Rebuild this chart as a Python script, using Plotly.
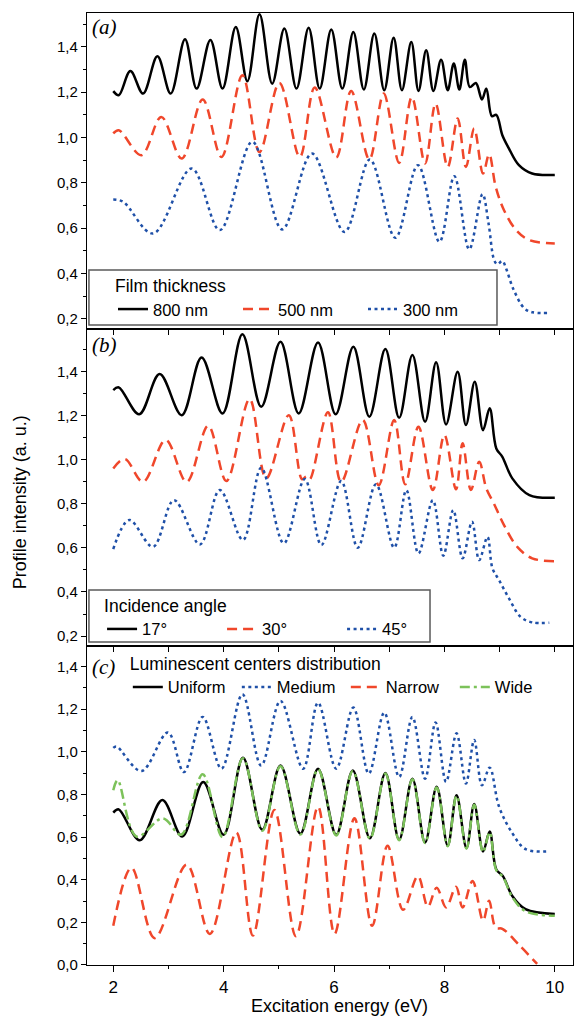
import plotly.graph_objects as go
from plotly.subplots import make_subplots

# ---------------- data ----------------
# Panel (a): film thickness
a800_x = [2.00, 2.10, 2.31, 2.54, 2.80, 3.04, 3.30, 3.51, 3.76, 3.98, 4.22, 4.43, 4.65, 4.88, 5.10, 5.32,
          5.54, 5.74, 5.95, 6.15, 6.35, 6.54, 6.73, 6.91, 7.08, 7.23, 7.40, 7.53, 7.67, 7.80, 7.94, 8.06,
          8.17, 8.27, 8.37, 8.46, 8.57, 8.68, 8.76, 8.86, 8.94, 9.05, 9.17, 9.35, 9.59, 10.0]
a800_y = [1.205, 1.187, 1.294, 1.194, 1.359, 1.194, 1.434, 1.216, 1.431, 1.216, 1.488, 1.249, 1.544, 1.238,
          1.481, 1.216, 1.485, 1.216, 1.477, 1.216, 1.466, 1.212, 1.459, 1.209, 1.441, 1.209, 1.422, 1.206,
          1.385, 1.206, 1.344, 1.209, 1.327, 1.212, 1.344, 1.223, 1.241, 1.168, 1.216, 1.094, 1.100, 1.010,
          0.951, 0.878, 0.841, 0.835]
a500_x = [2.00, 2.10, 2.51, 2.87, 3.24, 3.62, 3.96, 4.34, 4.65, 5.01, 5.38, 5.65, 6.04, 6.31, 6.64, 6.90,
          7.18, 7.41, 7.65, 7.84, 8.06, 8.24, 8.39, 8.54, 8.70, 8.81, 8.93, 9.08, 9.30, 9.54, 10.0]
a500_y = [1.018, 1.032, 0.922, 1.091, 0.907, 1.168, 0.914, 1.275, 0.936, 1.241, 0.914, 1.221, 0.912, 1.206,
          0.903, 1.194, 0.888, 1.179, 0.885, 1.150, 0.870, 1.084, 0.870, 1.040, 0.841, 0.926, 0.782, 0.679,
          0.591, 0.547, 0.532]
a300_x = [2.00, 2.18, 2.72, 3.42, 3.93, 4.52, 5.06, 5.60, 6.19, 6.65, 7.11, 7.52, 7.91, 8.18, 8.45, 8.69,
          8.80, 8.90, 8.96, 9.05, 9.12, 9.25, 9.45, 9.60, 9.90]
a300_y = [0.726, 0.716, 0.576, 0.863, 0.591, 0.981, 0.594, 0.929, 0.583, 0.903, 0.557, 0.878, 0.539, 0.829,
          0.506, 0.750, 0.620, 0.460, 0.440, 0.455, 0.420, 0.330, 0.245, 0.228, 0.225]

# Panel (b): incidence angle
b17_x = [2.00, 2.10, 2.47, 2.84, 3.24, 3.60, 3.98, 4.34, 4.68, 5.03, 5.36, 5.71, 6.03, 6.35, 6.64, 6.93,
         7.18, 7.42, 7.65, 7.85, 8.03, 8.24, 8.39, 8.55, 8.70, 8.82, 8.94, 9.05, 9.23, 9.54, 10.0]
b17_y = [1.317, 1.329, 1.207, 1.390, 1.203, 1.465, 1.211, 1.570, 1.241, 1.536, 1.211, 1.533, 1.207, 1.514,
         1.196, 1.503, 1.191, 1.476, 1.173, 1.443, 1.161, 1.400, 1.158, 1.355, 1.135, 1.234, 1.052, 1.014,
         0.916, 0.840, 0.828]
b30_x = [2.00, 2.21, 2.54, 2.95, 3.33, 3.72, 4.05, 4.47, 4.77, 5.18, 5.42, 5.50, 5.56, 5.89, 6.13, 6.52,
         6.81, 7.09, 7.29, 7.53, 7.79, 8.00, 8.21, 8.33, 8.48, 8.63, 8.76, 8.90, 9.08, 9.32, 9.59, 10.0]
b30_y = [0.961, 1.004, 0.900, 1.090, 0.900, 1.155, 0.904, 1.276, 0.916, 1.203, 0.912, 0.925, 0.912, 1.216,
         0.900, 1.181, 0.885, 1.181, 0.889, 1.150, 0.863, 1.113, 0.866, 1.075, 0.863, 0.991, 0.870, 0.800,
         0.704, 0.605, 0.553, 0.540]
b45_x = [2.00, 2.29, 2.72, 3.10, 3.57, 3.93, 4.35, 4.68, 5.09, 5.47, 5.77, 6.13, 6.43, 6.76, 7.09, 7.31,
         7.53, 7.79, 7.98, 8.16, 8.33, 8.50, 8.63, 8.78, 8.87, 8.99, 9.17, 9.38, 9.59, 9.90]
b45_y = [0.595, 0.727, 0.605, 0.817, 0.616, 0.863, 0.636, 0.964, 0.621, 0.913, 0.613, 0.904, 0.601, 0.889,
         0.601, 0.863, 0.575, 0.817, 0.565, 0.772, 0.553, 0.719, 0.545, 0.650, 0.508, 0.454, 0.371, 0.287,
         0.262, 0.260]

# Panel (c): luminescent centers distribution
cU_x = [2.00, 2.10, 2.48, 2.89, 3.25, 3.63, 4.00, 4.35, 4.70, 5.03, 5.39, 5.71, 6.04, 6.34, 6.65, 6.93,
        7.18, 7.42, 7.65, 7.86, 8.06, 8.22, 8.40, 8.54, 8.70, 8.82, 8.94, 9.06, 9.23, 9.47, 10.0]
cU_y = [0.715, 0.730, 0.585, 0.774, 0.603, 0.859, 0.611, 0.972, 0.634, 0.936, 0.616, 0.921, 0.611, 0.913,
        0.595, 0.901, 0.588, 0.874, 0.575, 0.836, 0.560, 0.797, 0.549, 0.755, 0.533, 0.626, 0.448, 0.417,
        0.324, 0.262, 0.239]
cM_x = [2.00, 2.06, 2.51, 2.99, 3.28, 3.62, 3.96, 4.34, 4.68, 5.03, 5.44, 5.71, 6.04, 6.35, 6.63, 6.91,
        7.18, 7.42, 7.65, 7.84, 8.03, 8.22, 8.39, 8.54, 8.68, 8.82, 8.99, 9.23, 9.47, 9.90]
cM_y = [1.019, 1.025, 0.910, 1.091, 0.905, 1.164, 0.921, 1.270, 0.936, 1.239, 0.921, 1.231, 0.921, 1.208,
        0.898, 1.184, 0.882, 1.164, 0.874, 1.138, 0.859, 1.087, 0.851, 1.056, 0.843, 0.926, 0.743, 0.619,
        0.544, 0.533]
cN_x = [2.00, 2.33, 2.75, 3.33, 3.75, 4.23, 4.53, 4.92, 5.31, 5.71, 6.01, 6.37, 6.69, 6.97, 7.25, 7.52,
        7.70, 7.86, 8.03, 8.21, 8.33, 8.51, 8.70, 8.81, 8.93, 9.05, 9.35, 9.68]
cN_y = [0.184, 0.456, 0.126, 0.471, 0.146, 0.622, 0.138, 0.727, 0.135, 0.743, 0.146, 0.688, 0.184, 0.560,
        0.259, 0.417, 0.274, 0.363, 0.270, 0.367, 0.270, 0.394, 0.208, 0.301, 0.175, 0.170, 0.095, 0.005]
cW_x = [2.00, 2.08, 2.42, 2.90, 3.23, 3.62, 3.98, 4.35, 4.70, 5.03, 5.39, 5.71, 6.04, 6.34, 6.65, 6.93,
        7.18, 7.42, 7.65, 7.86, 8.06, 8.22, 8.40, 8.54, 8.70, 8.82, 8.94, 9.06, 9.23, 9.47, 10.0]
cW_y = [0.820, 0.867, 0.603, 0.688, 0.611, 0.895, 0.600, 0.970, 0.630, 0.932, 0.612, 0.918, 0.608, 0.910,
        0.592, 0.898, 0.585, 0.871, 0.572, 0.833, 0.557, 0.794, 0.546, 0.752, 0.530, 0.623, 0.445, 0.414,
        0.318, 0.252, 0.231]

legend_titles = ["Film thickness", "Incidence angle", "Luminescent centers distribution"]
names_a = ["800 nm", "500 nm", "300 nm"]
names_b = ["17°", "30°", "45°"]
names_c = ["Uniform", "Medium", "Narrow", "Wide"]
panel_labels = ["(a)", "(b)", "(c)"]

# ---------------- styling ----------------
BLACK = "#000000"
RED = "#f0472b"
BLUE = "#1f50a8"
GREEN = "#7cc25a"
DASH = "10px,6px"
DOT = "3px,3.5px"
DASHDOT = "10px,4px,3px,4px"
LW = 2.5
FONT = "Arial, Liberation Sans, sans-serif"

fig = make_subplots(rows=3, cols=1, shared_xaxes=True, vertical_spacing=0)


def add(x, y, name, color, dash, row, legend, width=LW):
    fig.add_trace(go.Scatter(x=x, y=y, mode="lines", name=name, legend=legend,
                             line=dict(color=color, dash=dash, width=width, shape="spline", smoothing=1.0)),
                  row=row, col=1)


add(a800_x, a800_y, names_a[0], BLACK, "solid", 1, "legend")
add(a500_x, a500_y, names_a[1], RED, DASH, 1, "legend")
add(a300_x, a300_y, names_a[2], BLUE, DOT, 1, "legend")

add(b17_x, b17_y, names_b[0], BLACK, "solid", 2, "legend2")
add(b30_x, b30_y, names_b[1], RED, DASH, 2, "legend2")
add(b45_x, b45_y, names_b[2], BLUE, DOT, 2, "legend2")

add(cU_x, cU_y, names_c[0], BLACK, "solid", 3, "legend3")
add(cM_x, cM_y, names_c[1], BLUE, DOT, 3, "legend3")
add(cN_x, cN_y, names_c[2], RED, DASH, 3, "legend3")
add(cW_x, cW_y, names_c[3], GREEN, DASHDOT, 3, "legend3")

doms = [[0.668, 1.0], [0.3356, 0.668], [0.0, 0.3356]]
yranges = [[0.154, 1.55], [0.157, 1.594], [0.0, 1.499]]

axis_common = dict(showline=True, linecolor="black", linewidth=1.3, mirror=True,
                   showgrid=False, zeroline=False, ticks="outside", tickcolor="black", tickwidth=1.3)

for i in range(3):
    yk = "yaxis" if i == 0 else f"yaxis{i + 1}"
    fig.layout[yk].update(domain=doms[i], range=yranges[i], tick0=0, dtick=0.2, ticklen=5,
                          tickformat=".1f", tickfont=dict(family=FONT, size=15, color="black"),
                          minor=dict(dtick=0.1, tick0=0, ticklen=3, ticks="outside", tickcolor="black",
                                     tickwidth=1.3, showgrid=False),
                          **axis_common)
    xk = "xaxis" if i == 0 else f"xaxis{i + 1}"
    if i < 2:
        fig.layout[xk].update(range=[1.524, 10.33], tick0=0, dtick=1, ticklen=5, showticklabels=False,
                              **axis_common)
    else:
        fig.layout[xk].update(range=[1.524, 10.33], tick0=0, dtick=2, ticklen=6, showticklabels=True,
                              tickfont=dict(family=FONT, size=17, color="black"),
                              minor=dict(dtick=1, tick0=0, ticklen=3, ticks="outside", tickcolor="black",
                                         tickwidth=1.3),
                              **axis_common)

leg_common = dict(orientation="h", xanchor="left", yanchor="top", xref="paper", yref="paper",
                  font=dict(family=FONT, size=16.5, color="black"), entrywidthmode="pixels",
                  tracegroupgap=0, itemclick=False, traceorder="normal",
                  borderwidth=0, bgcolor="rgba(0,0,0,0)")
title_font = dict(family=FONT, size=17.5, color="black")

fig.update_layout(
    width=574, height=1021,
    margin=dict(l=87, r=1, t=13, b=56),
    paper_bgcolor="white", plot_bgcolor="white",
    separators=", ",
    font=dict(family=FONT, color="black"),
    legend=dict(x=0.0535, y=0.731, title=dict(text=legend_titles[0], side="top", font=title_font),
                entrywidth=80, **leg_common),
    legend2=dict(x=0.031, y=0.395, title=dict(text=legend_titles[1], side="top", font=title_font),
                 entrywidth=75, **leg_common),
    legend3=dict(x=0.084, y=0.334, title=dict(text=legend_titles[2], side="top", font=title_font),
                 entrywidth=64, **leg_common),
)

# legend frames (panels a and b)
frames = [(0.004, 0.6723, 0.8436, 0.730), (0.004, 0.3393, 0.7058, 0.3939)]
for x0, y0, x1, y1 in frames:
    fig.add_shape(type="rect", xref="paper", yref="paper", x0=x0, y0=y0, x1=x1, y1=y1,
                  line=dict(color="#5a5a5a", width=1.5), fillcolor="white", layer="above")

label_y = [0.985, 0.651, 0.313]
for lab, yy in zip(panel_labels, label_y):
    fig.add_annotation(text=f"<i>{lab}</i>", xref="paper", yref="paper", x=0.006, y=yy,
                       xanchor="left", yanchor="middle", showarrow=False,
                       font=dict(family="Liberation Serif, Times New Roman, serif", size=21, color="black"))

fig.add_annotation(text="Profile intensity (a. u.)", xref="paper", yref="paper", x=-0.138, y=0.486,
                   textangle=-90, showarrow=False, xanchor="center", yanchor="middle",
                   font=dict(family=FONT, size=18, color="black"))
fig.add_annotation(text="Excitation energy (eV)", xref="paper", yref="paper", x=0.52, y=-0.043,
                   showarrow=False, xanchor="center", yanchor="middle",
                   font=dict(family=FONT, size=18, color="black"))

fig.write_html("out.html", config={"displayModeBar": False},
               post_script="document.body.style.margin='0';document.body.style.padding='0';")
